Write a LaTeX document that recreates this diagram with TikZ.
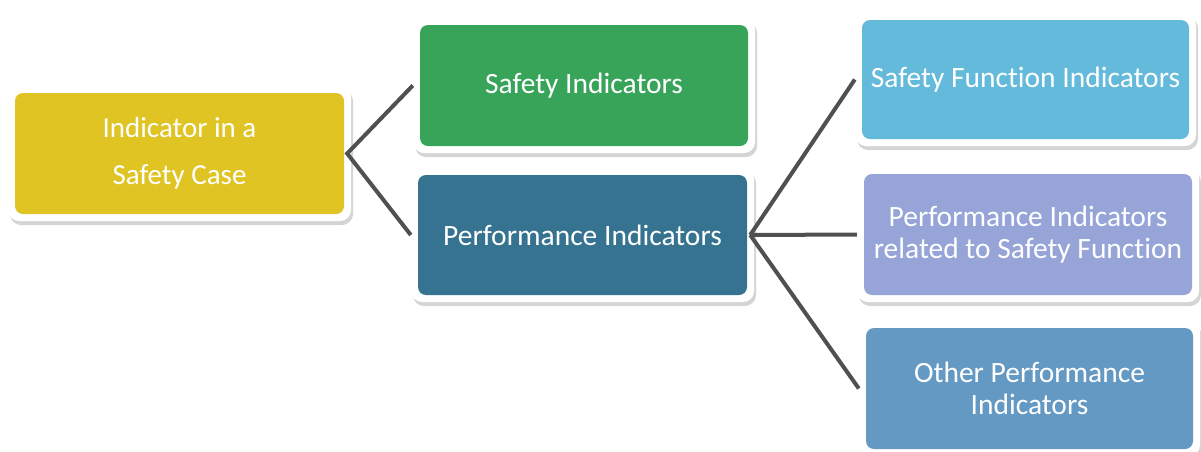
\documentclass[tikz,border=0pt]{standalone}
\usepackage{fontspec}
\setmainfont{Carlito}[Ligatures=NoCommon]
\usetikzlibrary{shadows}
\definecolor{cYellow}{HTML}{DFC424}
\definecolor{cGreen}{HTML}{37A45A}
\definecolor{cTeal}{HTML}{367391}
\definecolor{cSky}{HTML}{64BADA}
\definecolor{cLav}{HTML}{96A4D8}
\definecolor{cSteel}{HTML}{6499C3}
\definecolor{cLine}{HTML}{505050}
\begin{document}
\begin{tikzpicture}[x=1pt,y=-1pt,
  frame/.style={fill=white, rounded corners=11pt, inner sep=0pt,
    drop shadow={shadow xshift=2pt, shadow yshift=-4pt, opacity=0.3, fill=black!55}},
  tile/.style={fill=#1, rounded corners=8pt, inner sep=0pt, text=white,
    font=\fontsize{29.5}{32}\selectfont, align=center},
  link/.style={draw=cLine, line width=4pt}]
\useasboundingbox (0,0) rectangle (1201,451);

% frames
\node[frame, minimum width=343pt, minimum height=135pt] (rootF) at (179.5,153.5) {};
\node[frame, minimum width=342pt, minimum height=135pt] (siF) at (584,85.5) {};
\node[frame, minimum width=343pt, minimum height=134pt] (piF) at (582.5,235) {};
\node[frame, minimum width=341pt, minimum height=133pt] (sfiF) at (1025.5,79.5) {};
\node[frame, minimum width=342pt, minimum height=135pt] (pirF) at (1028,234.5) {};
\node[frame, minimum width=341pt, minimum height=135pt] (opiF) at (1029.5,388.5) {};

% tiles
\node[tile=cYellow, minimum width=329pt, minimum height=121pt,
  font=\fontsize{29}{47}\selectfont] (root) at (179.5,153.5) {Indicator in a\\Safety Case};
\node[tile=cGreen, minimum width=328pt, minimum height=121pt] (si) at (584,85.5) {Safety Indicators};
\node[tile=cTeal, minimum width=329pt, minimum height=120pt] (pi) at (582.5,235) {Performance Indicators};
\node[tile=cSky, minimum width=327pt, minimum height=119pt] (sfi) at (1025.5,79.5) {Safety Function Indicators};
\node[tile=cLav, minimum width=328pt, minimum height=121pt] (pir) at (1028,234.5) {Performance Indicators\\related to Safety Function};
\node[tile=cSteel, minimum width=327pt, minimum height=121pt] (opi) at (1029.5,388.5) {Other Performance\\Indicators};

% connectors
\coordinate (rootJ) at ([xshift=-4pt]rootF.east);
\coordinate (piJ) at ([xshift=-4pt]piF.east);
\draw[link, line join=miter] (siF.west) -- (rootJ) -- (piF.west);
\draw[link] (piJ) -- (sfiF.west);
\draw[link] (piJ) -- (pirF.west);
\draw[link] (piJ) -- (opiF.west);
\end{tikzpicture}
\end{document}
